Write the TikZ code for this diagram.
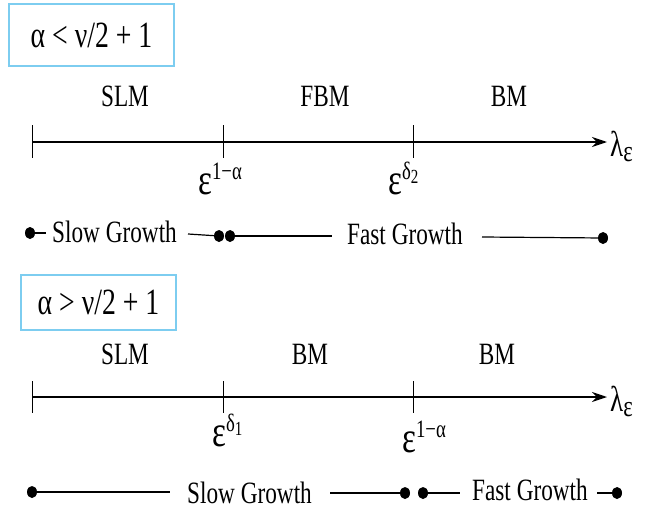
\documentclass[tikz,border=0pt]{standalone}
\usepackage{fontspec}
\setmainfont{Liberation Serif}[FakeStretch=0.75]
\usetikzlibrary{arrows.meta,shapes.geometric}

\definecolor{condblue}{RGB}{125,205,240}

% epsilon raised to a power
\newcommand\epspow[1]{{\fontsize{44}{44}\selectfont ε}\raisebox{15pt}{\fontsize{25}{25}\selectfont #1}}
\newcommand\subtwo[1]{\raisebox{-4pt}{\fontsize{20}{20}\selectfont #1}}
\newcommand\lameps{{\fontsize{36}{36}\selectfont λ}\raisebox{-5pt}{\fontsize{30}{30}\selectfont ε}}

\tikzset{
  cond/.style={draw=condblue, line width=1.4pt, inner sep=0pt, font=\fontsize{37}{37}\selectfont},
  regime/.style={anchor=base, inner sep=0pt, font=\fontsize{31}{31}\selectfont},
  growth/.style={anchor=base west, inner sep=0pt, font=\fontsize{31}{31}\selectfont},
  axisline/.style={line width=1.3pt, -{Stealth[length=15pt,width=10pt]}},
  tickmark/.style={line width=1pt},
  ticklab/.style={anchor=base west, inner sep=0pt},
  axlab/.style={anchor=west, inner sep=0pt},
  growdot/.style={ellipse, fill=black, inner sep=0pt, minimum width=10pt, minimum height=12pt},
  growline/.style={line width=1.2pt}
}

\begin{document}
\begin{tikzpicture}[x=1pt,y=-1pt]
\useasboundingbox (0,0) rectangle (649,514);

% ---------- first case ----------
\node[cond, minimum width=165pt, minimum height=62pt] (c1) at (91.5,35) {α < ν/2 + 1};

\node[regime] (slm1) at (125,106) {SLM};
\node[regime] (fbm1) at (325,106) {FBM};
\node[regime] (bm1)  at (509,106) {BM};

\coordinate (a1s) at (32,142);
\coordinate (a1e) at (607,142);
\draw[axisline] (a1s) -- (a1e);
\node[axlab] (lam1) at (610,146) {\lameps};
\draw[tickmark] (32,125) -- (32,158);
\draw[tickmark] (223,125) -- (223,158);
\draw[tickmark] (413,125) -- (413,158);

\node[ticklab] (e11) at (198,194) {\epspow{1−α}};
\node[ticklab] (e12) at (388,194) {\epspow{δ\subtwo{2}}};

\node[growdot] (p1) at (30,233) {};
\node[growth] (sg1) at (52,242) {Slow Growth};
\node[growdot] (p2) at (219,236) {};
\node[growdot] (p3) at (230,236) {};
\node[growth] (fg1) at (347,244) {Fast Growth};
\node[growdot] (p4) at (603,238) {};
\draw[growline] (p1) -- (46,233);
\draw[growline] (188,234) -- (p2);
\draw[growline] (p3) -- (332,236);
\draw[growline] (482,237) -- (p4);

% ---------- second case ----------
\node[cond, minimum width=155pt, minimum height=55pt] (c2) at (98.5,302.5) {α > ν/2 + 1};

\node[regime] (slm2) at (125,364) {SLM};
\node[regime] (bm2)  at (310,364) {BM};
\node[regime] (bm3)  at (497,364) {BM};

\coordinate (a2s) at (32,397);
\coordinate (a2e) at (607,397);
\draw[axisline] (a2s) -- (a2e);
\node[axlab] (lam2) at (610,401) {\lameps};
\draw[tickmark] (32,381) -- (32,413);
\draw[tickmark] (223,381) -- (223,413);
\draw[tickmark] (413,381) -- (413,413);

\node[ticklab] (e21) at (212,446) {\epspow{δ\subtwo{1}}};
\node[ticklab] (e22) at (402,452) {\epspow{1−α}};

\node[growdot] (q1) at (32,492) {};
\node[growth] (sg2) at (187,503) {Slow Growth};
\node[growdot] (q2) at (405,493) {};
\node[growdot] (q3) at (423,493) {};
\node[growth] (fg2) at (472,500) {Fast Growth};
\node[growdot] (q4) at (617,493) {};
\draw[growline] (q1) -- (170,492);
\draw[growline] (330,493) -- (q2);
\draw[growline] (q3) -- (460,493);
\draw[growline] (597,493) -- (q4);
\end{tikzpicture}
\end{document}
